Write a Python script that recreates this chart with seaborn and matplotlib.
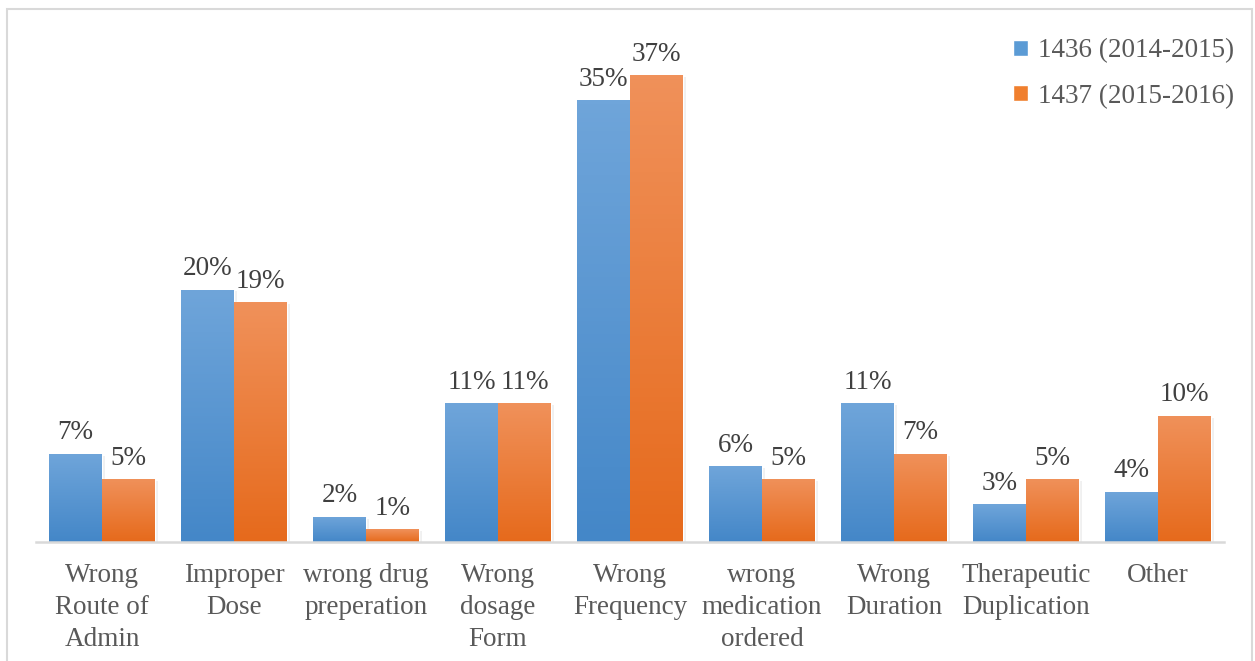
import pandas as pd
import matplotlib.pyplot as plt
import matplotlib.colors as mcolors
import numpy as np
import seaborn as sns

categorias = ["Wrong\nRoute of\nAdmin", "Improper\nDose", "wrong drug\npreperation",
              "Wrong\ndosage\nForm", "Wrong\nFrequency", "wrong\nmedication\nordered",
              "Wrong\nDuration", "Therapeutic\nDuplication", "Other"]
serie_1436 = [7, 20, 2, 11, 35, 6, 11, 3, 4]
serie_1437 = [5, 19, 1, 11, 37, 5, 7, 5, 10]
etiquetas_series = ["1436 (2014-2015)", "1437 (2015-2016)"]

# pasar los datos a formato largo para seaborn
df = pd.DataFrame({
    "categoria": categorias * 2,
    "valor": serie_1436 + serie_1437,
    "serie": [etiquetas_series[0]] * len(categorias) + [etiquetas_series[1]] * len(categorias),
})

sns.set_style("white")
plt.rcParams["font.family"] = ["Liberation Serif", "DejaVu Serif"]
FS = 19.5

colores = {etiquetas_series[0]: "#5b9bd5", etiquetas_series[1]: "#f07f2e"}
# degradado: arriba claro, abajo oscuro
degradados = {
    etiquetas_series[0]: ("#6fa5da", "#4487c8"),
    etiquetas_series[1]: ("#f0915a", "#e66a1c"),
}

fig = plt.figure(figsize=(12.55, 6.61), dpi=100)
W, H = 1255, 661
ax = fig.add_axes([36 / W, 119 / H, 1188 / W, 505 / H])

sns.barplot(data=df, x="categoria", y="valor", hue="serie", palette=colores,
            width=0.8, gap=0, saturation=1, ax=ax, legend=True)

# sombra y degradado en cada barra
for cont, nombre in zip(ax.containers, etiquetas_series):
    c_top, c_bot = degradados[nombre]
    cmap = mcolors.LinearSegmentedColormap.from_list("g", [c_bot, c_top])
    for barra in cont:
        x0, y0 = barra.get_x(), barra.get_y()
        w, h = barra.get_width(), barra.get_height()
        sombra = plt.Rectangle((x0 + 0.025, y0), w, h - 0.15, color="#000000",
                               alpha=0.06, zorder=1.5, linewidth=0)
        ax.add_patch(sombra)
        grad = np.linspace(0, 1, 100).reshape(-1, 1)
        img = ax.imshow(grad, cmap=cmap, origin="lower", aspect="auto",
                        extent=[x0, x0 + w, y0, y0 + h], zorder=2.5)
        img.set_clip_path(barra)
        barra.set_zorder(2)

ax.set_xlim(-0.5, len(categorias) - 0.5)
ax.set_ylim(0, 40)

# etiquetas de valores sobre cada barra
for cont in ax.containers:
    for barra in cont:
        v = barra.get_height()
        ax.annotate(f"{v:.0f}%", (barra.get_x() + barra.get_width() / 2, v),
                    xytext=(0, 6), textcoords="offset points", ha="center",
                    va="bottom", fontsize=FS, color="#404040", zorder=4)

# ejes
for lado in ["top", "right", "left"]:
    ax.spines[lado].set_visible(False)
ax.spines["bottom"].set_color("#d9d9d9")
ax.spines["bottom"].set_linewidth(1.8)
ax.spines["bottom"].set_zorder(3)
ax.set_yticks([])
ax.set_xlabel("")
ax.set_ylabel("")
ax.tick_params(axis="x", length=0, pad=15, labelsize=FS, labelcolor="#595959")
for t in ax.get_xticklabels():
    t.set_linespacing(1.36)

# leyenda
handles, labels = ax.get_legend_handles_labels()
ax.legend(handles, labels, loc="upper left", bbox_to_anchor=(989 / W, 1 - 14 / H),
          bbox_transform=fig.transFigure, frameon=False, fontsize=FS,
          handlelength=0.55, handleheight=0.55, handletextpad=0.35,
          labelspacing=0.75, labelcolor="#595959")

# borde del grafico
borde = plt.Rectangle((7 / W, -0.1), (1252 - 7) / W, 1.1 - 9 / H,
                      transform=fig.transFigure, fill=False, edgecolor="#d9d9d9",
                      linewidth=1.5, clip_on=False)
fig.add_artist(borde)

fig.savefig("out.png", dpi=100)
